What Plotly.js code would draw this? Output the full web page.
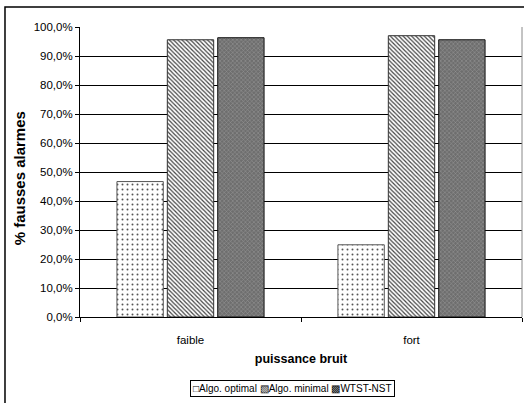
<!DOCTYPE html>
<html>
<head>
<meta charset="utf-8">
<script src="https://cdn.plot.ly/plotly-3.0.1.min.js"></script>
<style>html,body{margin:0;padding:0;background:#fff;}#chart{width:524px;height:403px;}</style>
</head>
<body>
<div id="chart"></div>
<script>
const categories = ["faible", "fort"];
const seriesNames = ["Algo. optimal", "Algo. minimal", "WTST-NST"];
const legendGlyphs = ["\u25A1", "\u25A7", "\u25A9"];
const algoOptimal = [0.467, 0.249];
const algoMinimal = [0.956, 0.970];
const wtstNst = [0.963, 0.956];
const yTickVals = [0, 0.1, 0.2, 0.3, 0.4, 0.5, 0.6, 0.7, 0.8, 0.9, 1.0];

const font = "'Liberation Sans', Arial, sans-serif";
const traces = [
  {type: "bar", name: seriesNames[0], x: categories, y: algoOptimal,
   marker: {color: "#ffffff", line: {color: "#555", width: 1},
            pattern: {shape: ".", fgcolor: "#555", bgcolor: "#ffffff", size: 5, solidity: 0.12, fillmode: "replace"}}},
  {type: "bar", name: seriesNames[1], x: categories, y: algoMinimal,
   marker: {color: "#ffffff", line: {color: "#333", width: 1},
            pattern: {shape: "\\", fgcolor: "#444", bgcolor: "#ffffff", size: 3, solidity: 0.4, fillmode: "replace"}}},
  {type: "bar", name: seriesNames[2], x: categories, y: wtstNst,
   marker: {color: "#7a7a7a", line: {color: "#111", width: 1},
            pattern: {shape: "x", fgcolor: "#9a9a9a", bgcolor: "#6e6e6e", size: 3, solidity: 0.3, fillmode: "replace"}}}
];

const legendText = seriesNames.map((n, i) => legendGlyphs[i] + n).join(" ");

const layout = {
  width: 524, height: 403,
  margin: {l: 80, r: 2, t: 27, b: 86, pad: 0},
  paper_bgcolor: "#ffffff", plot_bgcolor: "#ffffff",
  separators: ", ",
  font: {family: font, size: 11, color: "#000"},
  barmode: "group", bargap: 0.316, bargroupgap: 0.08,
  showlegend: false,
  xaxis: {type: "category", showline: true, linecolor: "#000", linewidth: 1,
          ticks: "outside", tickson: "boundaries", ticklen: 4, tickcolor: "#000",
          tickfont: {family: font, size: 11.5}, ticklabelstandoff: 12, showgrid: false, zeroline: false,
          title: {text: "<b>puissance bruit</b>", font: {family: font, size: 12.5}, standoff: 9}},
  yaxis: {range: [0, 1], tickvals: yTickVals, tickformat: ".1%", showline: true, linecolor: "#000", linewidth: 1,
          ticks: "outside", ticklen: 4, tickcolor: "#000", showgrid: true, gridcolor: "#000", gridwidth: 1,
          zeroline: false, tickfont: {family: font, size: 11.5},
          title: {text: "<b>% fausses alarmes\u00a0\u00a0\u00a0</b>", font: {family: font, size: 15}, standoff: 4}},
  annotations: [
    {xref: "paper", yref: "paper", x: 0.48, y: -0.247, xanchor: "center", yanchor: "middle",
     text: legendText, showarrow: false, font: {family: font, size: 10},
     bordercolor: "#000", borderwidth: 1, borderpad: 2, bgcolor: "#fff"}
  ],
  shapes: [
    {type: "rect", xref: "paper", yref: "paper", x0: -0.1697, x1: 1.02, y0: -0.35, y1: 1.069,
     line: {color: "#000", width: 1.5}, fillcolor: "rgba(0,0,0,0)", layer: "below"},
    {type: "line", xref: "paper", yref: "paper", x0: 1, x1: 1, y0: 0, y1: 1, line: {color: "#888", width: 1}}
  ]
};

Plotly.newPlot("chart", traces, layout, {staticPlot: true, displayModeBar: false});
</script>
</body>
</html>
